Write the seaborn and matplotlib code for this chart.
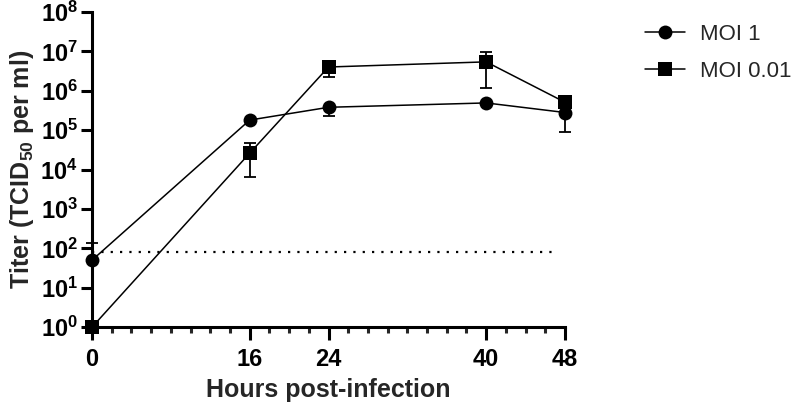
import numpy as np
import pandas as pd
import matplotlib
matplotlib.use("Agg")
import matplotlib.pyplot as plt
import seaborn as sns
from matplotlib.ticker import FixedLocator, FuncFormatter
from matplotlib.lines import Line2D

# Data
hours = [0, 16, 24, 40, 48]
moi1_titer = [50, 1.8e5, 3.8e5, 4.9e5, 2.8e5]
moi1_err_low = [0, 0, 1.5e5, 0, 1.9e5]
moi1_err_high = [85, 0, 0, 0, 0]
moi001_titer = [1, 2.6e4, 4.0e6, 5.4e6, 5.1e5]
moi001_err_low = [0, 1.95e4, 1.8e6, 4.2e6, 0]
moi001_err_high = [0, 2.1e4, 0, 4.1e6, 0]
detection_limit = 80

sns.set_style("ticks")
plt.rcParams['font.family'] = ['Liberation Sans', 'DejaVu Sans']
plt.rcParams['mathtext.fontset'] = 'custom'
plt.rcParams['mathtext.rm'] = 'Liberation Sans'
plt.rcParams['mathtext.bf'] = 'Liberation Sans:bold'

df = pd.DataFrame({
    "hours": hours * 2,
    "titer": moi1_titer + moi001_titer,
    "group": ["MOI 1"] * len(hours) + ["MOI 0.01"] * len(hours),
})

fig = plt.figure(figsize=(7.91, 4.11), dpi=100)
ax = fig.add_axes([0.1163, 0.204, 0.598, 0.767])

sns.lineplot(data=df, x="hours", y="titer", style="group", markers={"MOI 1": "o", "MOI 0.01": "s"},
             dashes=False, color="black", markersize=10, linewidth=1.1, markeredgewidth=0,
             legend=False, ax=ax, zorder=3)

ax.errorbar(hours, moi1_titer, yerr=[moi1_err_low, moi1_err_high], fmt="none", ecolor="black",
            elinewidth=1.3, capsize=4.5, capthick=1.3, zorder=2)
ax.errorbar(hours, moi001_titer, yerr=[moi001_err_low, moi001_err_high], fmt="none", ecolor="black",
            elinewidth=1.3, capsize=4.5, capthick=1.3, zorder=2)

# limit of detection
ax.plot([0, 47.2], [detection_limit, detection_limit], linestyle=(0, (1, 3.2)), color="black", linewidth=1.6)

ax.set_yscale("log")
ax.set_ylim(1, 1e8)
ax.set_xlim(0, 48)
ax.yaxis.set_major_locator(FixedLocator([10.0 ** k for k in range(9)]))
ax.yaxis.set_minor_locator(FixedLocator([]))
ax.yaxis.set_major_formatter(FuncFormatter(lambda v, p: r"$\mathbf{10^{%d}}$" % round(np.log10(v))))
ax.set_xticks([0, 16, 24, 40, 48])
ax.xaxis.set_minor_locator(FixedLocator(np.arange(0, 49, 2)))

for lab in ax.get_xticklabels():
    lab.set_fontweight("bold")
ax.tick_params(axis="both", which="major", labelsize=17, width=2.2, color="black", labelcolor="black")
ax.tick_params(axis="x", which="major", length=9, pad=6)
ax.tick_params(axis="x", which="minor", length=4, width=2.2)
ax.tick_params(axis="y", which="major", length=8, pad=2)

sns.despine(ax=ax)
for side in ["left", "bottom"]:
    ax.spines[side].set_linewidth(2.2)
    ax.spines[side].set_color("black")
for art in ax.lines + ax.collections:
    art.set_clip_on(False)

ax.set_xlabel("Hours post-infection", fontsize=18, fontweight="bold", labelpad=5)
ax.set_ylabel(r"Titer (TCID$_{\mathbf{50}}$ per ml)", fontsize=18, fontweight="bold", labelpad=3)

handles = [
    Line2D([], [], color="black", marker="o", markersize=10, markeredgewidth=0, linewidth=1.1, label="MOI 1"),
    Line2D([], [], color="black", marker="s", markersize=10, markeredgewidth=0, linewidth=1.1, label="MOI 0.01"),
]
fig.legend(handles=handles, loc="upper left", bbox_to_anchor=(0.79, 0.99), frameon=False,
           fontsize=16, handlelength=1.8, labelspacing=0.7, handletextpad=0.7)

fig.savefig("out.png", dpi=100)
